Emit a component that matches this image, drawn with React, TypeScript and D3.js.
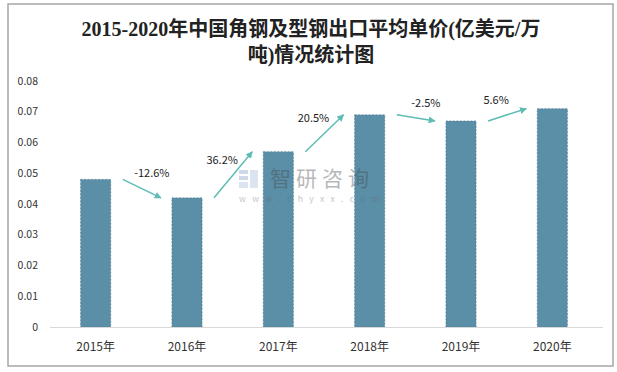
import React from "react";
import * as d3 from "d3";

const categories = ["2015年", "2016年", "2017年", "2018年", "2019年", "2020年"];
const values = [0.048, 0.042, 0.057, 0.069, 0.067, 0.071];
const growthLabels = ["-12.6%", "36.2%", "20.5%", "-2.5%", "5.6%"];
const yTicks = [0, 0.01, 0.02, 0.03, 0.04, 0.05, 0.06, 0.07, 0.08];
const titleLines = ["2015-2020年中国角钢及型钢出口平均单价(亿美元/万", "吨)情况统计图"];

const W = 617;
const H = 372;

export default function App() {
  const x = d3.scaleBand<string>().domain(categories).range([50, 598]).paddingInner(0.67).paddingOuter(0.335);
  const y = d3.scaleLinear().domain([0, 0.08]).range([327, 81]);
  const bw = x.bandwidth();
  const arrowColor = "#5dbdb4";
  const sansFont = "'Microsoft YaHei', 'Noto Sans CJK SC', 'Noto Sans', sans-serif";

  return (
    <svg width={W} height={H} style={{ position: "absolute", left: 0, top: 0, background: "#fff" }}>
      <defs>
        <marker id="ah" viewBox="0 0 10 10" refX="9" refY="5" markerWidth="7" markerHeight="7" markerUnits="userSpaceOnUse" orient="auto">
          <path d="M0,0 L10,5 L0,10 z" fill={arrowColor} />
        </marker>
      </defs>
      <rect x={8} y={4} width={605} height={362} fill="#fff" stroke="#a6a6a6" strokeWidth={1.5} />
      {titleLines.map((t, i) => (
        <text key={i} x={311} y={36 + i * 26} textAnchor="middle" fontSize={20} fontWeight="bold"
          fontFamily="'Liberation Serif', 'Noto Sans CJK SC', serif" fill="#222">{t}</text>
      ))}
      {yTicks.map((t) => (
        <text key={t} x={38} y={y(t)} dy="0.35em" textAnchor="end" fontSize={10.5} fontFamily={sansFont} fill="#333">
          {t === 0 ? "0" : t.toFixed(2)}
        </text>
      ))}
      {categories.map((c, i) => (
        <rect key={c} x={x(c)} y={y(values[i])} width={bw} height={y(0) - y(values[i])}
          fill="#5b8fa7" stroke="#4a7790" strokeWidth={0.6} strokeDasharray="2,1.5" />
      ))}
      <line x1={50} x2={603} y1={y(0) + 0.5} y2={y(0) + 0.5} stroke="#d9d9d9" strokeWidth={1} />
      {/* watermark */}
      <g opacity={0.38}>
        <rect x={239} y={170} width={9} height={4} fill="#7f9cc2" />
        <rect x={239} y={176} width={9} height={4} fill="#7f9cc2" />
        <rect x={250} y={170} width={8} height={18} fill="#a3bcdb" />
        <rect x={239} y={182} width={9} height={6} fill="#a3bcdb" />
        <text x={270} y={186} fontSize={21} fontFamily={sansFont} fill="#444" letterSpacing={5}>智研咨询</text>
        <text x={239} y={202} fontSize={8.5} fontFamily={sansFont} fill="#666" letterSpacing={6.4}>www.chyxx.com</text>
      </g>
      {categories.map((c) => (
        <text key={c} x={(x(c) as number) + bw / 2} y={351} textAnchor="middle" fontSize={12} fontFamily={sansFont} fill="#333">{c}</text>
      ))}
      {growthLabels.map((lab, i) => {
        const x1 = (x(categories[i]) as number) + bw + 12;
        const y1 = y(values[i]);
        const x2 = (x(categories[i + 1]) as number) - 11;
        const y2 = y(values[i + 1]);
        const dec = values[i + 1] < values[i];
        const mx = (x1 + x2) / 2 + (dec ? 10 : -11);
        const my = (y1 + y2) / 2 - 15;
        return (
          <g key={lab}>
            <line x1={x1} y1={y1} x2={x2} y2={y2} stroke={arrowColor} strokeWidth={1.5} markerEnd="url(#ah)" />
            <text x={mx} y={my} dy="0.35em" textAnchor="middle" fontSize={11} fontFamily={sansFont} fill="#222">{lab}</text>
          </g>
        );
      })}
    </svg>
  );
}
